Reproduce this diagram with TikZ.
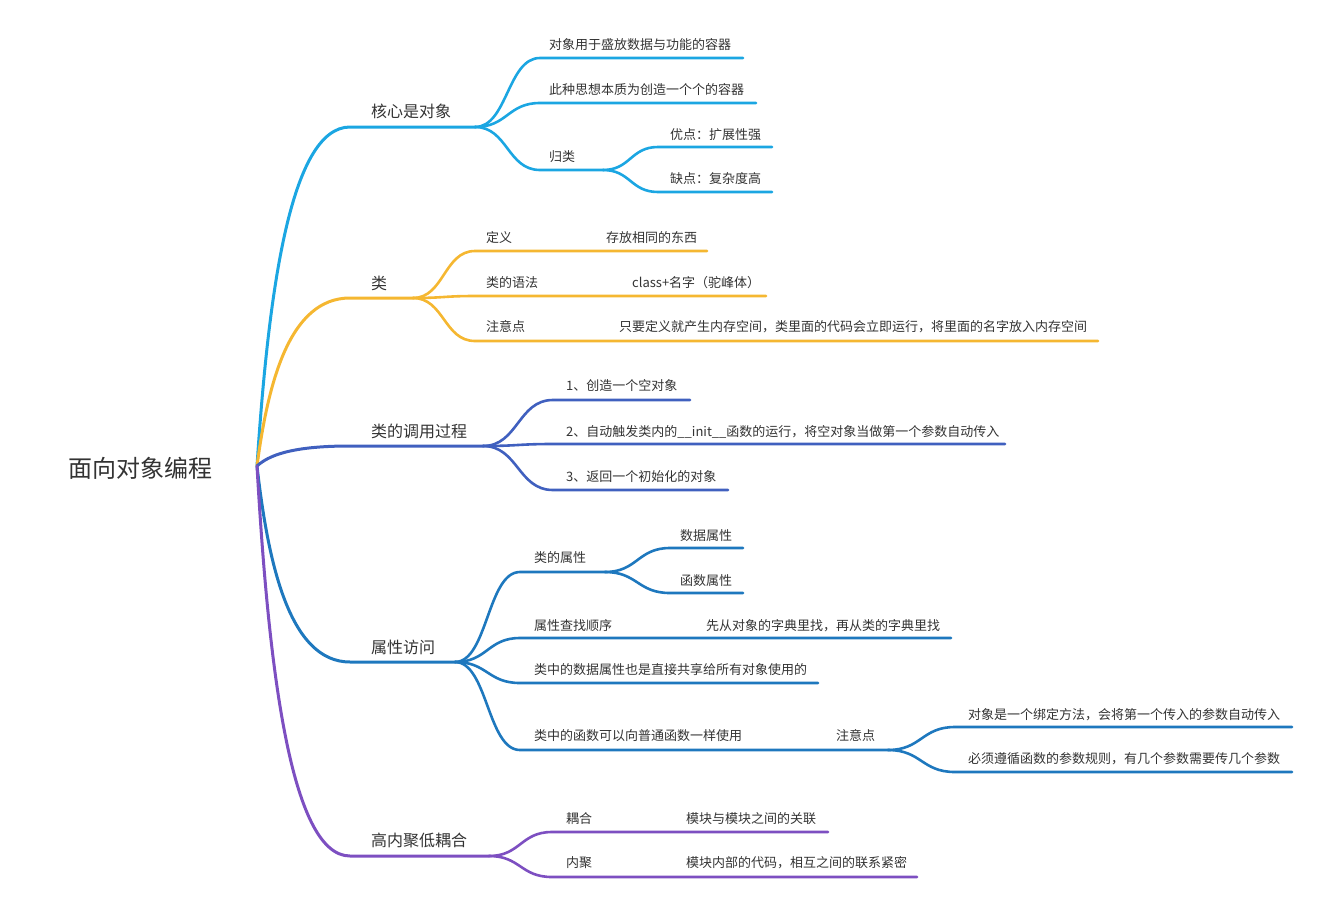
\documentclass[tikz,border=0pt]{standalone}
\usepackage{fontspec}
\setmainfont{Noto Sans CJK SC}
\usetikzlibrary{calc}
\definecolor{cA}{HTML}{1BA6E2}
\definecolor{cB}{HTML}{F5B731}
\definecolor{cC}{HTML}{4060BF}
\definecolor{cD}{HTML}{1E78BE}
\definecolor{cE}{HTML}{7D4FC1}
\definecolor{txt}{HTML}{333333}
\tikzset{
  rc/.style={to path={let \p1=(\tikztostart),\p2=(\tikztotarget) in
     .. controls ({\x1+0.12*(\x2-\x1)},{0.5*\y1+0.5*\y2}) and ({\x1+0.35*(\x2-\x1)},\y2) .. (\tikztotarget)}},
  sc/.style={to path={let \p1=(\tikztostart),\p2=(\tikztotarget) in
     .. controls ({0.5*\x1+0.5*\x2},\y1) and ({0.5*\x1+0.5*\x2},\y2) .. (\tikztotarget)}},
  lone/.style={line width=3pt,line cap=round,line join=round},
  ltwo/.style={line width=2.6pt,line cap=round,line join=round},
  tbase/.style={anchor=west,inner sep=0pt,text=txt,text height=0.88em,text depth=0.12em},
  troot/.style={tbase,yshift=-5pt,font=\fontsize{24}{28}\selectfont},
  tone/.style={tbase,yshift=-3.5pt,font=\fontsize{16}{19}\selectfont},
  ttwo/.style={tbase,yshift=-2pt,font=\fontsize{13}{15}\selectfont},
}
\begin{document}
\begin{tikzpicture}[x=1pt,y=-1pt]
\useasboundingbox (0,0) rectangle (1320,908);
% root
\node[troot] (root) at (68,469) {面向对象编程};
\coordinate (R) at (257,466);
% ---------- A
\node[tone] (A) at (371,110) {核心是对象};
\coordinate (A-s) at (350,127); \coordinate (A-e) at (475,127);
\node[ttwo] (A1) at (549,44) {对象用于盛放数据与功能的容器};
\coordinate (A1-s) at (540,58); \coordinate (A1-e) at (743,58);
\node[ttwo] (A2) at (549,89) {此种思想本质为创造一个个的容器};
\coordinate (A2-s) at (540,103); \coordinate (A2-e) at (756,103);
\node[ttwo] (A3) at (549,156) {归类};
\coordinate (A3-s) at (540,170); \coordinate (A3-e) at (603,170);
\node[ttwo] (A31) at (670,134) {优点：扩展性强};
\coordinate (A31-s) at (658,147); \coordinate (A31-e) at (772,147);
\node[ttwo] (A32) at (670,178) {缺点：复杂度高};
\coordinate (A32-s) at (658,192); \coordinate (A32-e) at (772,192);
\draw[cA,lone] (R) to[rc] (A-s) -- (A-e);
\draw[cA,ltwo] (A-e) to[sc] (A1-s) -- (A1-e);
\draw[cA,ltwo] (A-e) to[sc] (A2-s) -- (A2-e);
\draw[cA,ltwo] (A-e) to[sc] (A3-s) -- (A3-e);
\draw[cA,ltwo] (A3-e) to[sc] (A31-s) -- (A31-e);
\draw[cA,ltwo] (A3-e) to[sc] (A32-s) -- (A32-e);
% ---------- B
\node[tone] (B) at (371,282) {类};
\coordinate (B-s) at (350,298); \coordinate (B-e) at (413,298);
\node[ttwo] (B1) at (486,237) {定义};
\coordinate (B1-s) at (475,251); \coordinate (B1-e) at (525,251);
\node[ttwo] (B11) at (606,237) {存放相同的东西};
\coordinate (B11-e) at (707,251);
\node[ttwo] (B2) at (486,282) {类的语法};
\coordinate (B2-s) at (475,296); \coordinate (B2-e) at (548,296);
\node[ttwo] (B21) at (632,282) {class+名字（驼峰体）};
\coordinate (B21-e) at (766,296);
\node[ttwo] (B3) at (486,326) {注意点};
\coordinate (B3-s) at (475,341); \coordinate (B3-e) at (535,341);
\node[ttwo] (B31) at (619,326) {只要定义就产生内存空间，类里面的代码会立即运行，将里面的名字放入内存空间};
\coordinate (B31-e) at (1098,341);
\draw[cB,lone] (R) to[rc] (B-s) -- (B-e);
\draw[cB,ltwo] (B-e) to[sc] (B1-s) -- (B1-e) -- (B11-e);
\draw[cB,ltwo] (B-e) to[sc] (B2-s) -- (B2-e) -- (B21-e);
\draw[cB,ltwo] (B-e) to[sc] (B3-s) -- (B3-e) -- (B31-e);
% ---------- C
\node[tone] (C) at (371,430) {类的调用过程};
\coordinate (C-s) at (350,446); \coordinate (C-e) at (483,446);
\node[ttwo] (C1) at (566,385) {1、创造一个空对象};
\coordinate (C1-s) at (553,400); \coordinate (C1-e) at (690,400);
\node[ttwo] (C2) at (566,431) {2、自动触发类内的\_\_init\_\_函数的运行，将空对象当做第一个参数自动传入};
\coordinate (C2-s) at (553,444); \coordinate (C2-e) at (1005,444);
\node[ttwo] (C3) at (566,476) {3、返回一个初始化的对象};
\coordinate (C3-s) at (553,490); \coordinate (C3-e) at (728,490);
\draw[cC,lone] (R) to[rc] (C-s) -- (C-e);
\draw[cC,ltwo] (C-e) to[sc] (C1-s) -- (C1-e);
\draw[cC,ltwo] (C-e) to[sc] (C2-s) -- (C2-e);
\draw[cC,ltwo] (C-e) to[sc] (C3-s) -- (C3-e);
% ---------- D
\node[tone] (D) at (371,646) {属性访问};
\coordinate (D-s) at (350,662); \coordinate (D-e) at (455,662);
\node[ttwo] (D1) at (534,557) {类的属性};
\coordinate (D1-s) at (520,572); \coordinate (D1-e) at (605,572);
\node[ttwo] (D11) at (680,535) {数据属性};
\coordinate (D11-s) at (670,548); \coordinate (D11-e) at (743,548);
\node[ttwo] (D12) at (680,580) {函数属性};
\coordinate (D12-s) at (670,593); \coordinate (D12-e) at (743,593);
\node[ttwo] (D2) at (534,625) {属性查找顺序};
\coordinate (D2-s) at (520,638); \coordinate (D2-e) at (620,638);
\node[ttwo] (D21) at (706,625) {先从对象的字典里找，再从类的字典里找};
\coordinate (D21-e) at (951,638);
\node[ttwo] (D3) at (534,669) {类中的数据属性也是直接共享给所有对象使用的};
\coordinate (D3-s) at (520,683); \coordinate (D3-e) at (818,683);
\node[ttwo] (D4) at (534,735) {类中的函数可以向普通函数一样使用};
\coordinate (D4-s) at (520,750); \coordinate (D4-e) at (758,750);
\node[ttwo] (D41) at (836,735) {注意点};
\coordinate (D41-e) at (888,750);
\node[ttwo] (D411) at (968,714) {对象是一个绑定方法，会将第一个传入的参数自动传入};
\coordinate (D411-s) at (955,727); \coordinate (D411-e) at (1292,727);
\node[ttwo] (D412) at (968,758) {必须遵循函数的参数规则，有几个参数需要传几个参数};
\coordinate (D412-s) at (955,772); \coordinate (D412-e) at (1292,772);
\draw[cD,lone] (R) to[rc] (D-s) -- (D-e);
\draw[cD,ltwo] (D-e) to[sc] (D1-s) -- (D1-e);
\draw[cD,ltwo] (D1-e) to[sc] (D11-s) -- (D11-e);
\draw[cD,ltwo] (D1-e) to[sc] (D12-s) -- (D12-e);
\draw[cD,ltwo] (D-e) to[sc] (D2-s) -- (D2-e) -- (D21-e);
\draw[cD,ltwo] (D-e) to[sc] (D3-s) -- (D3-e);
\draw[cD,ltwo] (D-e) to[sc] (D4-s) -- (D4-e) -- (D41-e);
\draw[cD,ltwo] (D41-e) to[sc] (D411-s) -- (D411-e);
\draw[cD,ltwo] (D41-e) to[sc] (D412-s) -- (D412-e);
% ---------- E
\node[tone] (E) at (371,839) {高内聚低耦合};
\coordinate (E-s) at (350,856); \coordinate (E-e) at (489,856);
\node[ttwo] (E1) at (566,818) {耦合};
\coordinate (E1-s) at (552,832); \coordinate (E1-e) at (601,832);
\node[ttwo] (E11) at (686,818) {模块与模块之间的关联};
\coordinate (E11-e) at (828,832);
\node[ttwo] (E2) at (566,862) {内聚};
\coordinate (E2-s) at (552,877); \coordinate (E2-e) at (601,877);
\node[ttwo] (E21) at (686,862) {模块内部的代码，相互之间的联系紧密};
\coordinate (E21-e) at (917,877);
\draw[cE,lone] (R) to[rc] (E-s) -- (E-e);
\draw[cE,ltwo] (E-e) to[sc] (E1-s) -- (E1-e) -- (E11-e);
\draw[cE,ltwo] (E-e) to[sc] (E2-s) -- (E2-e) -- (E21-e);
\end{tikzpicture}
\end{document}
